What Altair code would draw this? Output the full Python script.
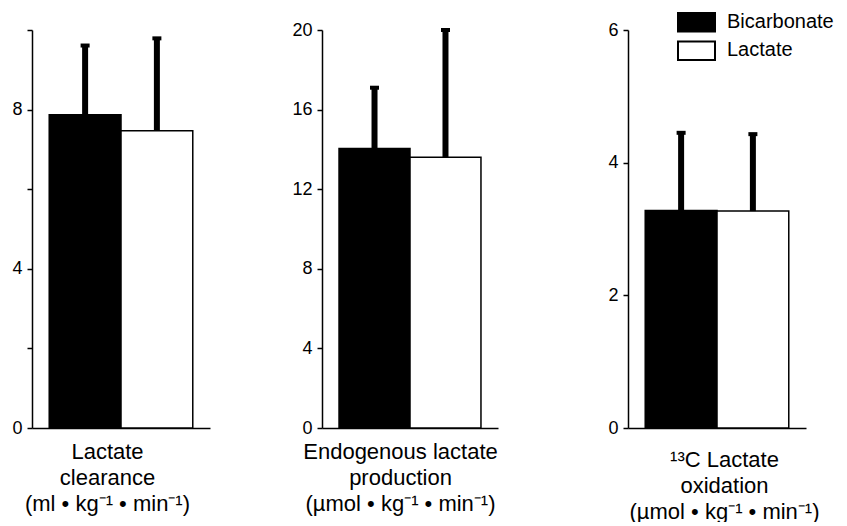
import altair as alt
import pandas as pd

groups = ["Bicarbonate", "Lactate"]
clearance_mean = [7.87, 7.47]
clearance_upper = [9.61, 9.79]
production_mean = [14.05, 13.6]
production_upper = [17.1, 20.0]
oxidation_mean = [3.28, 3.27]
oxidation_upper = [4.45, 4.43]

title_clearance = ["Lactate", "clearance", "(ml • kg⁻¹ • min⁻¹)"]
title_production = ["Endogenous lactate", "production", "(µmol • kg⁻¹ • min⁻¹)"]
title_oxidation = ["¹³C Lactate", "oxidation", "(µmol • kg⁻¹ • min⁻¹)"]

ticks_clearance = [0, 2, 4, 6, 8, 10]
ticks_production = [0, 2, 4, 6, 8, 10, 12, 14, 16, 18, 20]
ticks_oxidation = [0, 2, 4, 6]

FONT = "Liberation Sans"


def panel(mean, upper, title, ymax, ticks, label_expr, title_x, title_pad,
          width, legend=None, ytitle=None, ytitle_pad=0):
    df = pd.DataFrame({"group": groups, "mean": mean, "upper": upper})
    xenc = alt.X(
        "group:N", sort=groups,
        scale=alt.Scale(paddingInner=0, paddingOuter=0.24),
        axis=alt.Axis(title=title, labels=False, ticks=False, domain=True,
                      domainColor="black", domainWidth=1.5,
                      titleFont=FONT, titleFontSize=22, titleFontWeight="normal",
                      titleLineHeight=26, titlePadding=title_pad,
                      titleX=title_x, titleAlign="center", titleColor="black"),
    )
    yaxis_kwargs = dict(values=ticks, labelExpr=label_expr, grid=False, format="d",
                        domainColor="black", domainWidth=1.5, tickColor="black",
                        tickWidth=1.5, tickSize=5, labelPadding=5,
                        labelFont=FONT, labelFontSize=18, labelColor="black")
    if ytitle is not None:
        yaxis_kwargs.update(title=ytitle, titleFontSize=10, titlePadding=ytitle_pad)
    else:
        yaxis_kwargs.update(title=None)
    yscale = alt.Scale(domain=[0, ymax], nice=False, zero=True)
    base = alt.Chart(df).encode(x=xenc)
    bars = base.mark_bar(stroke="black", strokeWidth=1.5).encode(
        y=alt.Y("mean:Q", scale=yscale, axis=alt.Axis(**yaxis_kwargs)),
        fill=alt.Fill("group:N", scale=alt.Scale(domain=groups, range=["black", "white"]),
                      legend=legend),
    )
    rule = base.mark_rule(color="black", strokeWidth=6).encode(
        y=alt.Y("mean:Q"), y2="upper:Q")
    cap = base.mark_tick(color="black", thickness=4, size=9, opacity=1).encode(
        y=alt.Y("upper:Q"))
    return alt.layer(bars, rule, cap).properties(width=width, height=398)


legend3 = alt.Legend(
    orient="none", legendX=49, legendY=-18, title=None,
    symbolType="M-1,-1H1V0H-1Z", symbolSize=1369,
    symbolStrokeColor="black", symbolStrokeWidth=2, symbolOpacity=1,
    labelFont=FONT, labelFontSize=20, labelColor="black", labelOffset=11,
    labelBaseline="bottom", rowPadding=1.5,
)

p1 = panel(clearance_mean, clearance_upper, title_clearance, 10, ticks_clearance,
           "datum.value % 4 == 0 ? datum.label : ''", 75, 13, 178)
p2 = panel(production_mean, production_upper, title_production, 20, ticks_production,
           "datum.value % 4 == 0 ? datum.label : ''", 78, 13, 176)
p3 = panel(oxidation_mean, oxidation_upper, title_oxidation, 6, ticks_oxidation,
           "datum.label", 96, 21, 178, legend=legend3, ytitle=" ", ytitle_pad=18)

chart = alt.hconcat(p1, p2, p3, spacing=81).resolve_scale(
    fill="independent"
).resolve_legend(fill="independent").properties(
    padding={"left": 3, "top": 4, "right": 0, "bottom": 0}
).configure(
    background="white", view=alt.ViewConfig(stroke=None, strokeWidth=0)
)

chart.save("out.html", embed_options={"renderer": "svg", "actions": False})
